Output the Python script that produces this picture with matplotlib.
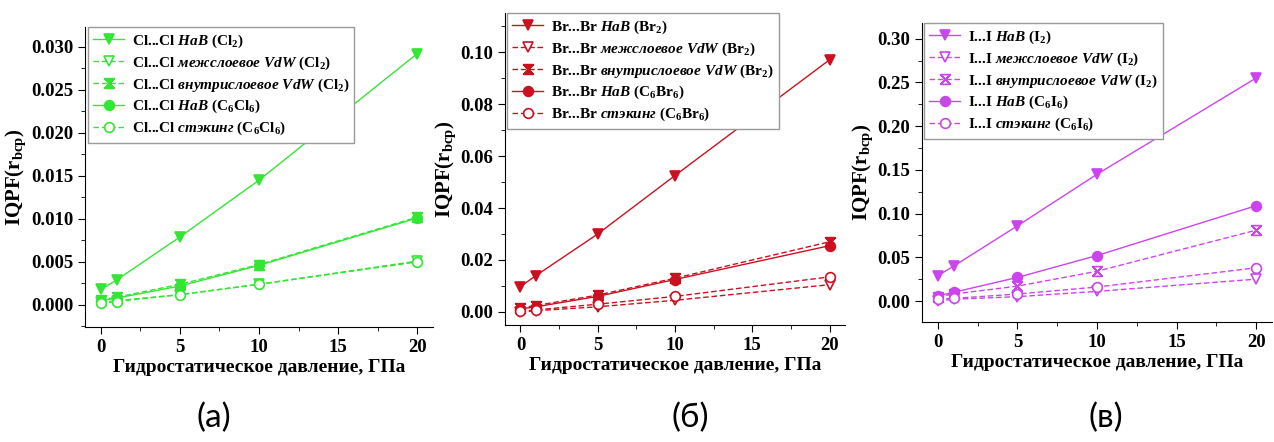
import matplotlib.pyplot as plt
from matplotlib.path import Path
from matplotlib.ticker import MultipleLocator, FormatStrFormatter

plt.rcParams["font.family"] = ["Liberation Serif", "DejaVu Serif"]
plt.rcParams["font.weight"] = "bold"
plt.rcParams["mathtext.fontset"] = "custom"
plt.rcParams["mathtext.rm"] = "Liberation Serif:bold"
plt.rcParams["mathtext.bf"] = "Liberation Serif:bold"
plt.rcParams["mathtext.it"] = "Liberation Serif:italic:bold"

# давление, ГПа
pressure = [0, 1, 5, 10, 20]

# (а) хлор
cl_hab_cl2 = [0.0018, 0.0029, 0.0079, 0.0145, 0.0292]
cl_inter_cl2 = [0.0003, 0.0005, 0.0012, 0.0024, 0.0051]
cl_intra_cl2 = [0.0006, 0.0009, 0.0024, 0.0047, 0.0102]
cl_hab_c6 = [0.0005, 0.0008, 0.0022, 0.0046, 0.0101]
cl_stack_c6 = [0.0002, 0.0004, 0.0012, 0.0024, 0.0050]

# (б) бром
br_hab_br2 = [0.0098, 0.0140, 0.0300, 0.0525, 0.0970]
br_inter_br2 = [0.0000, 0.0005, 0.0020, 0.0045, 0.0105]
br_intra_br2 = [0.0015, 0.0025, 0.0065, 0.0130, 0.0270]
br_hab_c6 = [0.0012, 0.0020, 0.0060, 0.0125, 0.0255]
br_stack_c6 = [0.0003, 0.0008, 0.0030, 0.0060, 0.0135]

# (в) йод
i_hab_i2 = [0.029, 0.040, 0.086, 0.145, 0.255]
i_inter_i2 = [0.000, 0.002, 0.005, 0.011, 0.025]
i_intra_i2 = [0.005, 0.008, 0.017, 0.034, 0.081]
i_hab_c6 = [0.006, 0.010, 0.027, 0.052, 0.109]
i_stack_c6 = [0.002, 0.003, 0.008, 0.016, 0.038]

kinds = ["HaB", "межслоевое\\ VdW", "внутрислоевое\\ VdW", "HaB", "стэкинг"]

# песочные часы + косой крест
bowtie = Path(
    [(-1, 1), (1, 1), (0, 0), (-1, 1),
     (-1, -1), (1, -1), (0, 0), (-1, -1),
     (-1, -1), (1, 1), (-1, 1), (1, -1)],
    [Path.MOVETO, Path.LINETO, Path.LINETO, Path.CLOSEPOLY,
     Path.MOVETO, Path.LINETO, Path.LINETO, Path.CLOSEPOLY,
     Path.MOVETO, Path.LINETO, Path.MOVETO, Path.LINETO],
)

panels = [
    dict(series=[cl_hab_cl2, cl_inter_cl2, cl_intra_cl2, cl_hab_c6, cl_stack_c6],
         atom="Cl...Cl", mol2="Cl$_2$", mol6="C$_6$Cl$_6$", color="#33e633",
         rect=[85, 27, 348, 300], ylim=(-0.00256, 0.0323), step=0.005,
         fmt="%.3f", lg=(88, 27), cap="(а)", capx=214, bowfill=True),
    dict(series=[br_hab_br2, br_inter_br2, br_intra_br2, br_hab_c6, br_stack_c6],
         atom="Br...Br", mol2="Br$_2$", mol6="C$_6$Br$_6$", color="#cc1020",
         rect=[505, 13, 340, 312], ylim=(-0.005, 0.115), step=0.02,
         fmt="%.2f", lg=(507, 13), cap="(б)", capx=690, bowfill=True),
    dict(series=[i_hab_i2, i_inter_i2, i_intra_i2, i_hab_c6, i_stack_c6],
         atom="I...I", mol2="I$_2$", mol6="C$_6$I$_6$", color="#cc44ee",
         rect=[922, 23, 350, 299], ylim=(-0.024, 0.318), step=0.05,
         fmt="%.2f", lg=(924, 23), cap="(в)", capx=1106, bowfill=False),
]

W, H = 1274, 442
fig = plt.figure(figsize=(W / 100, H / 100), dpi=100)

for p in panels:
    x0, y0, w, h = p["rect"]
    ax = fig.add_axes([x0 / W, 1 - (y0 + h) / H, w / W, h / H])
    c = p["color"]
    mols = [p["mol2"], p["mol2"], p["mol2"], p["mol6"], p["mol6"]]
    styles = [
        dict(marker="v", mfc=c, ls="-"),
        dict(marker="v", mfc="white", ls="--"),
        dict(marker=bowtie, mfc=c if p["bowfill"] else "white", ls="--"),
        dict(marker="o", mfc=c, ls="-"),
        dict(marker="o", mfc="white", ls="--"),
    ]
    for y, kind, mol, st in zip(p["series"], kinds, mols, styles):
        label = p["atom"] + " $\\mathit{" + kind + "}$ (" + mol + ")"
        ax.plot(pressure, y, color=c, lw=1.0, ms=7, mec=c, mew=1.2,
                dashes=(4, 2) if st["ls"] == "--" else (None, None),
                marker=st["marker"], mfc=st["mfc"], label=label)

    ax.set_xlim(-1, 21)
    ax.set_ylim(*p["ylim"])
    ax.spines["top"].set_visible(False)
    ax.spines["right"].set_visible(False)
    ax.xaxis.set_major_locator(MultipleLocator(5))
    ax.xaxis.set_minor_locator(MultipleLocator(2.5))
    ax.yaxis.set_major_locator(MultipleLocator(p["step"]))
    ax.yaxis.set_minor_locator(MultipleLocator(p["step"] / 2))
    ax.yaxis.set_major_formatter(FormatStrFormatter(p["fmt"]))
    ax.tick_params(which="both", direction="out", labelsize=13.5)
    ax.tick_params(which="major", length=5)
    ax.tick_params(which="minor", length=3)
    for lab in ax.get_xticklabels() + ax.get_yticklabels():
        lab.set_fontweight("bold")
    ax.set_xlabel("Гидростатическое давление, ГПа", fontsize=14,
                  fontweight="bold", labelpad=2)
    ax.set_ylabel("IQPF(r$_{\\mathrm{bcp}}$)", fontsize=15,
                  fontweight="bold", labelpad=2)

    lx, ly = p["lg"]
    leg = ax.legend(loc="upper left",
                    bbox_to_anchor=((lx - x0) / w, 1 - (ly - y0) / h),
                    borderaxespad=0, fontsize=11, handlelength=2.0,
                    labelspacing=0.3, fancybox=False, framealpha=1,
                    edgecolor="#999999", borderpad=0.35, handletextpad=0.5)
    leg.get_frame().set_linewidth(1.0)

    fig.text(p["capx"] / W, 1 - 418 / H, p["cap"], ha="center", va="center",
             fontsize=24, family=["Lato", "DejaVu Sans"], fontweight="normal")

fig.savefig("out.png", dpi=100)
